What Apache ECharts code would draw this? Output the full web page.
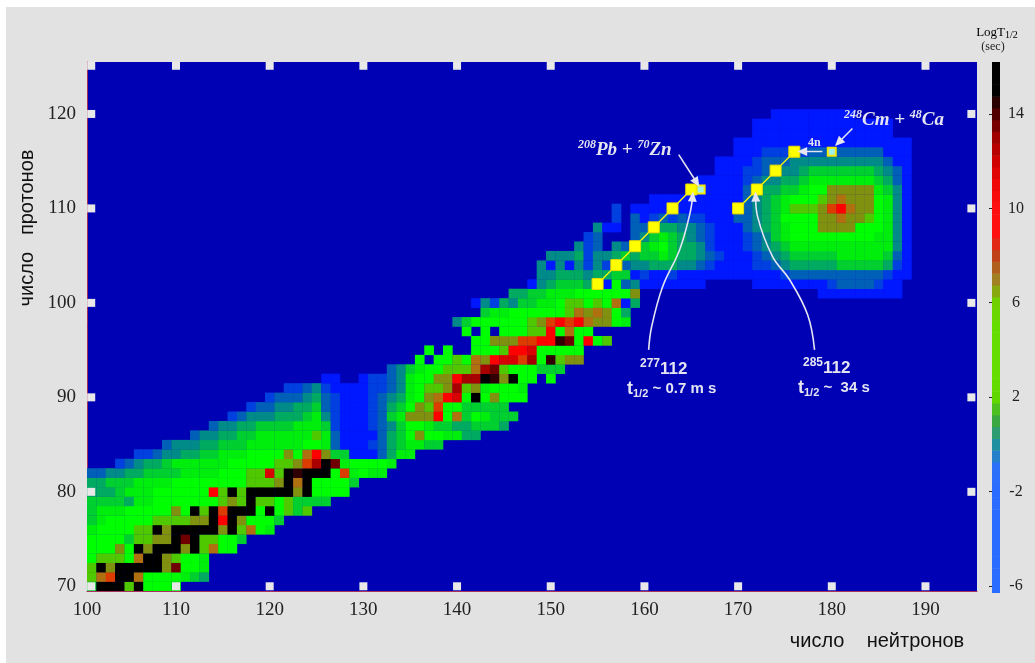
<!DOCTYPE html>
<html><head><meta charset="utf-8">
<style>html,body{margin:0;padding:0;background:#fff;width:1035px;height:663px;overflow:hidden}
#panel{position:absolute;left:6px;top:7px;width:1029px;height:656px;background:#e2e2e2}
#main{position:absolute;left:0;top:0;width:1035px;height:663px}</style>
<script src="https://cdn.jsdelivr.net/npm/echarts@6/dist/echarts.min.js"></script>
</head><body><div id="panel"></div><div id="main"></div>
<script>
const _ = null;
// [proton number, first neutron number, log10(T1/2) values read for consecutive neutrons]
const cellRows = [
[70,101,[3,15,15,15,6,15,5,5,5,4]],
[71,101,[6,8,9,15,15,8,5,5,5,5,4,3,2]],
[72,101,[6,15,7,15,15,15,15,15,7,13,5,5,4]],
[73,101,[5,6,6,6,5,8,15,15,7,6,5,5,4]],
[74,101,[5,5,5,7,5,15,7,15,15,15,7,15,6,8,5,5]],
[75,101,[5,5,5,5,3,6,6,7,7,15,13,15,6,6,5,5,3]],
[76,101,[4,5,5,5,5,6,6,15,7,15,15,15,15,15,7,15,6,8,5,4]],
[77,101,[3,4,5,5,5,5,5,6,6,6,6,7,7,15,10,15,7,5,5,5,3]],
[78,101,[3,4,4,4,5,5,5,5,5,7,5,15,6,15,9,15,15,15,5,15,5,6,3,6]],
[79,101,[3,3,3,3,2,4,4,5,5,5,5,5,5,5,6,7,6,15,6,6,5,6,3,3,3,3]],
[80,101,[2,2,2,3,4,4,4,5,5,5,5,5,5,10,6,15,6,15,15,15,15,15,7,15,5,5,5,5]],
[81,101,[2,2,3,3,3,4,4,4,4,5,5,5,5,5,5,5,5,6,6,6,7,15,8,15,5,5,5,5,3]],
[82,101,[0,0,1,1,2,2,3,3,3,3,4,4,4,4,5,5,5,6,6,11,6,15,14,15,15,15,5,9,4,5,4,4]],
[83,104,[-1,0,1,2,2,3,4,4,4,4,4,4,5,5,5,5,5,6,6,7,9,12,15,13,4,5,5,5,5,4]],
[84,106,[-1,-1,0,1,1,2,2,3,3,4,4,4,5,5,5,5,7,5,8,10,7,3,3,-2,-2,-2,0,2,4,4]],
[85,109,[0,1,1,1,2,2,3,3,3,4,4,4,4,4,4,5,5,4,0,-2,-2,-2,-1,0,2,3,4,4,3,3]],
[86,112,[0,1,1,2,2,3,3,4,4,4,4,4,4,6,4,0,-2,-2,-2,-2,0,2,3,5,7,5,5,4,4,2,2]],
[87,114,[0,1,1,2,2,3,3,3,3,4,4,4,3,-1,-2,-2,-2,-1,0,1,3,5,5,4,3,3,2,2,3,3,3,2]],
[88,116,[-1,0,1,1,1,2,2,2,3,4,1,-1,-2,-2,-2,-1,0,3,4,7,7,7,10,5,8,3,5,4,3,3,3]],
[89,118,[-1,0,0,1,1,2,2,3,0,-1,-2,-2,-2,-1,0,2,3,5,7,6,9,5,5,3,3,3,3,3]],
[90,120,[-1,0,0,0,1,2,0,-1,-2,-2,-2,-1,0,1,2,4,5,7,8,10,11,5,15,5,7,5,5,5]],
[91,122,[-1,-1,0,1,-1,-2,-2,-2,-2,-1,-1,0,1,4,5,6,6,7,12,6,7,4,5,5,5,4]],
[92,126,[-2,-2,_,_,-2,-1,-1,0,1,4,5,5,7,7,10,12,12,15,14,7,15,5,5,_,5]],
[93,133,[0,1,3,4,5,5,6,6,6,8,12,13,6,5,5,5,3,3,3]],
[94,136,[5,_,5,5,6,5,8,7,10,11,11,9,12,5,14,6,7,7]],
[95,137,[5,_,5,_,_,5,5,5,6,10,10,11,5,5,5,5,5]],
[96,142,[5,5,7,7,7,9,9,10,10,14,13,5,10,5,6]],
[97,141,[5,_,5,_,5,5,5,6,6,10,5,8,5,5]],
[98,140,[1,3,5,5,5,5,5,5,6,7,9,10,9,10,8,7,7,5,4]],
[99,143,[3,4,4,5,5,5,5,5,5,6,8,7,8,7,5,2]],
[100,142,[-2,1,-1,2,1,3,3,4,4,5,6,6,5,6,5,8,-2,2]],
[101,146,[2,2,3,3,4,4,4,5,5,5,5,5,5,7]],
[101,179,[-2,-2,-2,-2,-2,-2,-2,-2,-2]],
[102,148,[-2,1,2,3,3,3,2,3,-2,5,0,1,-2,-2,-2,-2,-2,-2,-2]],
[102,172,[-2,-2,-2,-2,-2,-2,-2,-2,-1,0,0,0,0,-1,-2,-2]],
[103,149,[1,1,2,2,2,1,2,2,3,3,-2,-1,-2,-2,-1,-2,-2,-2,-2,-2,-2,-2,-2,-2,-2,-2,-1,0,0,0,0,0,0,0,0,0,0,-1,-2,-2]],
[104,149,[1,-2,1,-2,1,-1,1,-1,2,0,1,1,2,2,2,1,1,0,-1,-2,-2,-2,-2,-1,-1,0,1,2,2,2,2,2,3,3,3,3,3,2,-1,-2]],
[105,150,[1,1,1,2,-1,1,1,2,3,2,3,3,4,3,2,2,1,0,-1,-2,-2,-2,-1,0,1,2,3,3,3,3,3,4,4,4,4,4,3,0,-2]],
[106,153,[1,-1,0,_,1,0,3,3,4,5,3,2,2,1,-1,-2,-2,-2,-1,0,1,2,3,4,4,4,4,4,4,4,4,4,4,4,1,-2]],
[107,154,[-1,0,_,_,_,0,1,3,4,3,2,1,0,-1,-2,-2,-2,-1,0,1,3,4,5,5,5,5,5,5,5,5,5,4,4,1,-2]],
[108,155,[1,-2,-2,_,0,0,1,2,2,1,1,0,-1,-2,-2,-2,0,1,2,3,4,5,5,5,7,7,7,7,5,5,5,4,1,-2]],
[109,157,[-1,_,0,-2,-1,0,-1,0,-1,-1,-2,-2,-2,0,0,1,2,3,5,5,5,5,7,7,8,7,7,6,5,4,1,-2]],
[110,157,[-1,_,-2,-2,-2,-2,-2,-2,-2,-2,-2,-2,-2,-2,0,1,2,3,4,6,6,6,7,9,10,8,7,7,5,4,1,-2]],
[111,161,[-2,-2,-2,-2,-2,-2,-2,-2,-2,-2,0,1,2,3,4,5,5,5,6,7,8,7,7,7,5,4,1,-2]],
[112,166,[-2,-2,-2,-2,-2,0,1,2,2,3,3,4,5,5,7,7,7,7,7,4,3,1,-2]],
[113,166,[-2,-2,-2,-2,-2,-1,0,1,1,2,2,3,4,4,4,4,4,4,4,3,2,0,-2]],
[114,168,[-2,-2,-2,-1,-1,0,1,1,1,2,3,3,3,3,3,3,3,2,1,0,-2]],
[115,168,[-2,-2,-2,-2,-1,0,0,0,1,1,1,1,1,1,1,1,1,1,0,-2,-2]],
[116,170,[-2,-2,-2,-1,-1,-1,-1,-1,0,0,0,0,0,0,0,0,-2,-2,-2]],
[117,170,[-2,-2,-2,-2,-2,-2,-2,-2,-2,-2,-2,-2,-2,-2,-2,-2,-2,-2,-2]],
[118,172,[-2,-2,-2,-2,-2,-2,-2,-2,-2,-2,-2,-2,-2,-2,-2]],
[119,172,[-2,-2,-2,-2,-2,-2,-2,-2,-2,-2,-2,-2,-2,-2,-2]],
[120,174,[-2,-2,-2,-2,-2,-2,-2,-2,-2]]
];
const xTickLabels = [100.5,110,120,130,140,150,160,170,180,190];
const yTickLabels = [70,80,90,100,110,120];
const colorbarTicks = [-6,-2,2,6,10,14];
const colorbarLevels = [-6.5,-6,-5.5,-5,-4.5,-4,-3.5,-3,-2.5,-2,-1.5,-1,-0.5,0,0.5,1,1.5,2,2.5,3,3.5,4,4.5,5,5.5,6,6.5,7,7.5,8,8.5,9,9.5,10,10.5,11,11.5,12,12.5,13,13.5,14,14.5,15,15.5,16,16.5];
const cellColors = ['#0018ff','#0040e0','#0060b8','#008a88','#00aa60','#00cf30','#00ee0c','#00ff00','#50c800','#80900f','#b07010','#dc3c00','#ff0000','#d80000','#a80000','#700000','#300000','#000000'];
const barColors = ['#2a6cff','#2a6cff','#2a6cff','#2a6cff','#2a6cff','#2a70f8','#1f90a0','#3aa840','#60d800','#66dd00','#66dd00','#66dd00','#70d000','#a08020','#c04018','#ff1010','#ff1010','#f00808','#d00000','#a00000','#500000','#000000','#000000'];
// chains of nuclides (neutrons, protons)
const chainPb = [[155,102],[157,104],[159,106],[161,108],[163,110],[165,112]];
const chainCm = [[170,110],[172,112],[174,114],[176,116]];
const compound = [[166,112],[180,116]];
const tickSquares = [
 [100.95,70],[110,70],[120,70],[130,70],[140,70],[150,70],[160,70],[170,70],[180,70],[190,70],
 [100.95,125.1],[110,125.1],[120,125.1],[130,125.1],[140,125.1],[150,125.1],[160,125.1],[170,125.1],[180,125.1],[190,125.1],
 [100.95,80],[100.95,90],[100.95,100],[100.95,110],[100.95,120],
 [194.9,80],[194.9,90],[194.9,100],[194.9,110],[194.9,120]
];
const curve277 = [[160.45,95.03],[160.77,97.47],[161.94,101.71],[163.76,105.63],[164.83,109.34],[165.15,111.25]];
const curve285 = [[178.16,95.03],[177.42,98.74],[175.5,102.45],[173.68,104.89],[172.08,109.13],[171.87,111.25]];
const arrowPb = [[163.66,115.7],[165.58,112.74]];
const arrowCm = [[182.2,118.46],[180.72,116.98]];
const arrow4n = [[179.0,116.02],[176.84,116.02]];

const cells = [];
cellRows.forEach(r => r[2].forEach((v,i) => { if (v !== null) cells.push([r[1]+i, r[0], v]); }));
const WHITE = '#e4e4f2';
function arrowSeries(pts, rot, smooth){
  return {type:'line', xAxisIndex:0, yAxisIndex:0, smooth:smooth?0.4:false, silent:true, z:6,
    lineStyle:{color:WHITE,width:1.6}, itemStyle:{color:WHITE,opacity:1}, showAllSymbol:true, symbol:'none',
    data: pts.map((p,i)=> i===pts.length-1 ? {value:p,symbol:'triangle',symbolSize:[9,10],symbolRotate:rot} : {value:p})};
}
const serifSup = {fontFamily:'Liberation Serif',fontStyle:'italic',fontWeight:'bold',fontSize:12,color:WHITE,verticalAlign:'top',lineHeight:22};
const serifBig = {fontFamily:'Liberation Serif',fontStyle:'italic',fontWeight:'bold',fontSize:19,color:WHITE,lineHeight:22};
const sansSup = {fontFamily:'Liberation Sans',fontWeight:'bold',fontSize:12,color:WHITE,verticalAlign:'top',lineHeight:22};
const sansBig = {fontFamily:'Liberation Sans',fontWeight:'bold',fontSize:17,color:WHITE,lineHeight:22};
const sansMid = {fontFamily:'Liberation Sans',fontWeight:'bold',fontSize:15,color:WHITE,lineHeight:20};
const sansT = {fontFamily:'Liberation Sans',fontWeight:'bold',fontSize:18,color:WHITE,lineHeight:20};
const sansSub = {fontFamily:'Liberation Sans',fontWeight:'bold',fontSize:11,color:WHITE,verticalAlign:'bottom',lineHeight:20};
const richAll = {sup:serifSup,big:serifBig,s:sansSup,b:sansBig,m:sansMid,t:sansT,u:sansSub};
function rt(x,y,text){return {type:'text',x,y,z:20,style:{text,rich:richAll,fill:WHITE,align:'left',verticalAlign:'middle'}};}
const chart = echarts.init(document.getElementById('main'),null,{renderer:'canvas'});
chart.setOption({
  animation:false, backgroundColor:'transparent',
  grid:[
    {left:87,right:58,top:62,bottom:72,show:true,backgroundColor:'#0000b4',borderWidth:0},
    {left:992,width:8,top:62,height:531,show:false}
  ],
  xAxis:[
    {type:'value',gridIndex:0,min:100.5,max:195.5,splitLine:{show:false},
     axisLine:{show:true,lineStyle:{color:'#a8305c',width:1}},axisTick:{show:false},
     axisLabel:{customValues:xTickLabels,margin:10,fontFamily:'Liberation Serif',fontSize:19,color:'#222',
       formatter:v=>String(Math.round(v/10)*10)}},
    {type:'value',gridIndex:1,min:0,max:1,show:false}
  ],
  yAxis:[
    {type:'value',gridIndex:0,min:69.5,max:125.5,splitLine:{show:false},
     axisLine:{show:true,lineStyle:{color:'#a8305c',width:1}},axisTick:{show:false},
     axisLabel:{customValues:yTickLabels,margin:11,fontFamily:'Liberation Serif',fontSize:19,color:'#222'}},
    {type:'value',gridIndex:1,position:'right',min:-6.3,max:16.2,splitLine:{show:false},
     axisLine:{show:false},axisTick:{show:true,customValues:colorbarTicks,inside:true,length:3,lineStyle:{color:'#222'}},
     axisLabel:{customValues:colorbarTicks,align:'center',margin:16,fontFamily:'Liberation Serif',fontSize:16,color:'#222'}}
  ],
  visualMap:[
    {show:false,type:'continuous',seriesIndex:0,dimension:2,min:-2,max:15,inRange:{color:cellColors}},
    {show:false,type:'continuous',seriesIndex:1,dimension:1,min:-6,max:16,inRange:{color:barColors}}
  ],
  series:[
    {type:'custom',xAxisIndex:0,yAxisIndex:0,silent:true,data:cells,encode:{x:0,y:1},z:1,clip:true,
     renderItem:(p,api)=>{
       const a=api.coord([api.value(0)-0.5,api.value(1)+0.5]), b=api.coord([api.value(0)+0.5,api.value(1)-0.5]);
       return {type:'rect',shape:{x:a[0],y:a[1],width:b[0]-a[0]+0.3,height:b[1]-a[1]+0.3},style:{fill:api.visual('color')}};
     }},
    {type:'custom',xAxisIndex:1,yAxisIndex:1,silent:true,data:colorbarLevels.map(v=>[0,v]),encode:{x:0,y:1},clip:true,
     renderItem:(p,api)=>{
       const a=api.coord([0,api.value(1)+0.25]), b=api.coord([1,api.value(1)-0.25]);
       return {type:'rect',shape:{x:a[0],y:a[1],width:b[0]-a[0],height:b[1]-a[1]+0.5},style:{fill:api.visual('color')}};
     }},
    {type:'scatter',xAxisIndex:0,yAxisIndex:0,silent:true,data:tickSquares,symbol:'rect',symbolSize:8,z:3,clip:false,
     itemStyle:{color:'#e8e8e8',opacity:1}},
    {type:'line',xAxisIndex:0,yAxisIndex:0,silent:true,data:chainPb,z:5,symbol:'rect',symbolSize:11,showAllSymbol:true,
     lineStyle:{color:'#ffff00',width:1.3},itemStyle:{color:'#ffff00',borderColor:'#e8d800',borderWidth:1,opacity:1}},
    {type:'line',xAxisIndex:0,yAxisIndex:0,silent:true,data:chainCm,z:5,symbol:'rect',symbolSize:11,showAllSymbol:true,
     lineStyle:{color:'#ffff00',width:1.3},itemStyle:{color:'#ffff00',borderColor:'#e8d800',borderWidth:1,opacity:1}},
    {type:'scatter',xAxisIndex:0,yAxisIndex:0,silent:true,data:compound,z:5,symbol:'rect',symbolSize:8,
     itemStyle:{color:'#a0f0e8',borderColor:'#f4e800',borderWidth:2,opacity:1}},
    arrowSeries(curve277,-4,true), arrowSeries(curve285,2,true),
    arrowSeries(arrowPb,213,false), arrowSeries(arrowCm,135,false), arrowSeries(arrow4n,90,false)
  ],
  graphic:[
    {type:'text',x:27,y:228,rotation:Math.PI/2,z:20,style:{text:'число   протонов',fontFamily:'Liberation Sans',fontSize:20,fill:'#111',align:'center',verticalAlign:'middle'}},
    {type:'text',x:877,y:641,z:20,style:{text:'число    нейтронов',fontFamily:'Liberation Sans',fontSize:20,fill:'#111',align:'center',verticalAlign:'middle'}},
    {type:'text',x:997,y:33,z:20,style:{text:'{a|LogT}{b|1/2}',rich:{a:{fontFamily:'Liberation Serif',fontSize:13,color:'#222'},b:{fontFamily:'Liberation Serif',fontSize:10,color:'#222',verticalAlign:'bottom',lineHeight:15}},align:'center',verticalAlign:'middle'}},
    {type:'text',x:993,y:47,z:20,style:{text:'(sec)',fontFamily:'Liberation Serif',fontSize:12,fill:'#222',align:'center',verticalAlign:'middle'}},
    rt(578,150,'{sup|208}{big|Pb + }{sup|70}{big|Zn}'),
    rt(844,120,'{sup|248}{big|Cm + }{sup|48}{big|Ca}'),
    {type:'text',x:808,y:143,z:20,style:{text:'4n',fontFamily:'Liberation Serif',fontWeight:'bold',fontSize:12,fill:WHITE,verticalAlign:'middle'}},
    rt(640,369,'{s|277}{b|112}'),
    rt(627,389,'{t|t}{u|1/2}{m| ~ 0.7 m s}'),
    rt(803,368,'{s|285}{b|112}'),
    rt(798,388,'{t|t}{u|1/2}{m| ~  34 s}')
  ]
});
</script></body></html>
